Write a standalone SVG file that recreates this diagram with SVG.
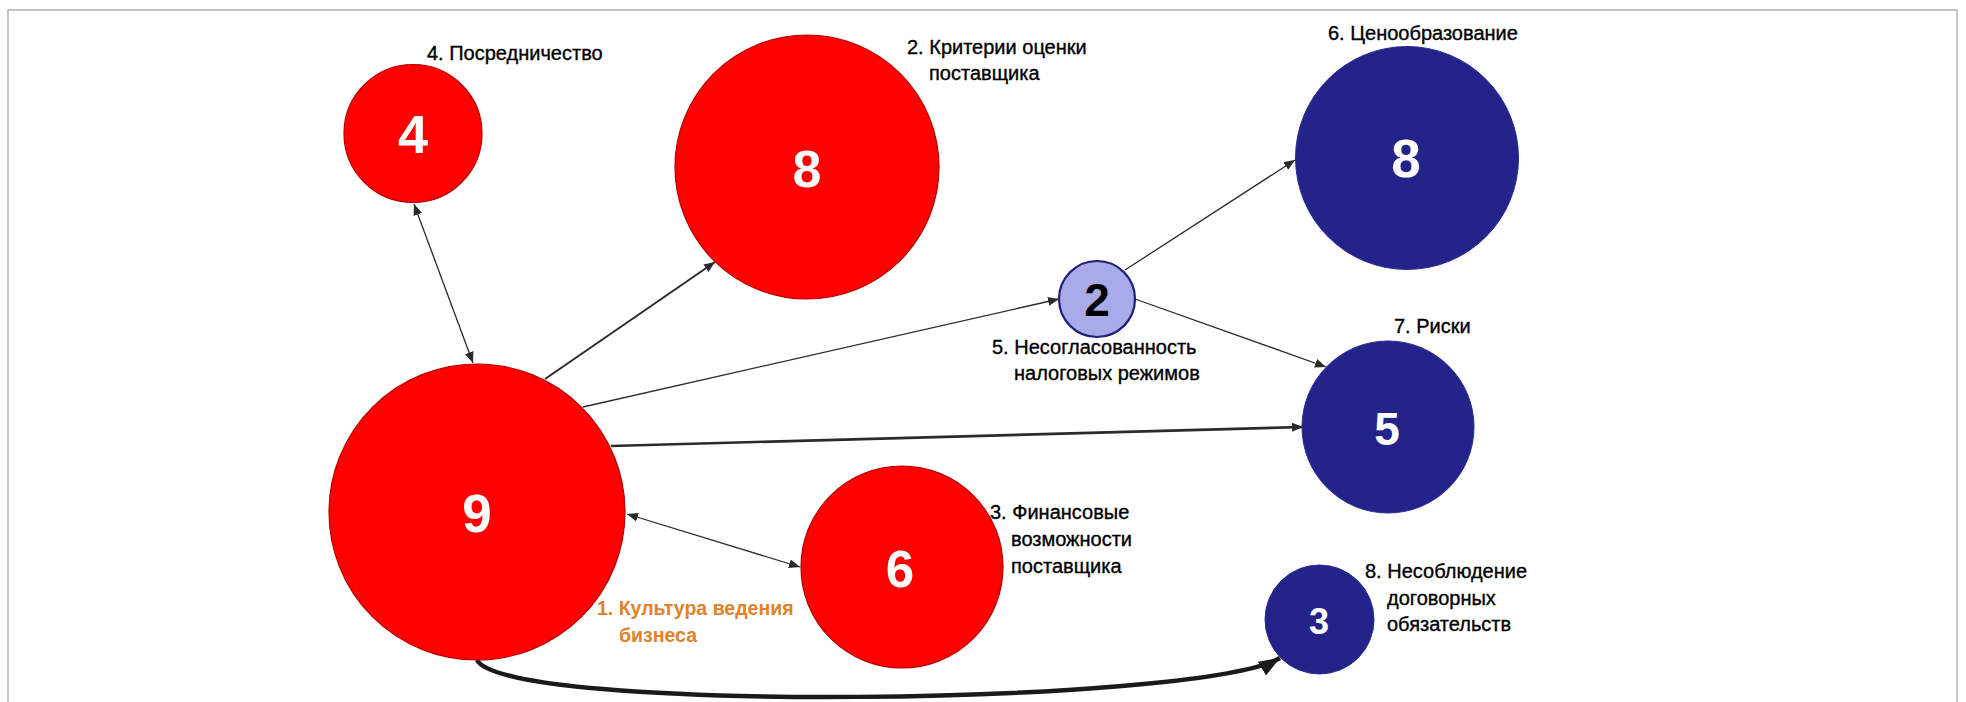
<svg xmlns="http://www.w3.org/2000/svg" width="1966" height="702" viewBox="0 0 1966 702">
  <style>
    .frame { fill: none; stroke: #b3b3b3; stroke-width: 1.5; }
    .red { fill: #ff0000; stroke: #b80000; stroke-width: 1.2; }
    .navy { fill: #232389; stroke: #2a2a95; stroke-width: 1; }
    .lilac { fill: #a9aae8; stroke: #1f1f7c; stroke-width: 2.2; }
    .num { font-family: "Liberation Sans", Arial, sans-serif; font-weight: bold; fill: #ffffff; text-anchor: middle; }
    .num.dark { fill: #000000; }
    .lbl { font-family: "Liberation Sans", Arial, sans-serif; font-size: 20px; fill: #000000; stroke: #000000; stroke-width: 0.35; }
    .lbl.accent { fill: #e0822a; stroke: none; font-weight: bold; font-size: 19.5px; }
    .edge { fill: none; stroke: #2b2b2b; stroke-width: 1.3; }
    .edge.mid { stroke-width: 2; }
    .edge.wide { stroke-width: 2.6; }
    .edge.heavy { stroke: #1a1a1a; stroke-width: 4.5; }
  </style>
  <defs>
    <marker id="tip" markerUnits="userSpaceOnUse" markerWidth="12" markerHeight="9" refX="11" refY="4.5" orient="auto-start-reverse">
      <path d="M0,0 L11,4.5 L0,9 z" fill="#2b2b2b"/>
    </marker>
    <marker id="tipBig" markerUnits="userSpaceOnUse" markerWidth="22" markerHeight="16" refX="21" refY="8" orient="auto">
      <path d="M0,0 L21,8 L0,16 z" fill="#1a1a1a"/>
    </marker>
  </defs>

  <rect class="frame" x="8" y="10" width="1949" height="700"/>

  <!-- connectors -->
  <g id="connectors">
    <line class="edge" x1="473" y1="363" x2="414" y2="204" marker-start="url(#tip)" marker-end="url(#tip)"/>
    <line class="edge mid" x1="545" y1="379" x2="715" y2="262" marker-end="url(#tip)"/>
    <line class="edge" x1="583" y1="407" x2="1059" y2="299" marker-end="url(#tip)"/>
    <line class="edge wide" x1="611" y1="446" x2="1303" y2="427" marker-end="url(#tip)"/>
    <line class="edge" x1="627" y1="514" x2="800" y2="567" marker-start="url(#tip)" marker-end="url(#tip)"/>
    <line class="edge" x1="1125" y1="270" x2="1295" y2="160" marker-end="url(#tip)"/>
    <line class="edge" x1="1135" y1="299" x2="1326" y2="367" marker-end="url(#tip)"/>
    <path class="edge heavy" d="M477,660 C505,714 1200,705 1280,658" marker-end="url(#tipBig)"/>
  </g>

  <!-- 1. Культура ведения бизнеса -->
  <g id="node-1">
    <circle class="red" cx="477" cy="512" r="148"/>
    <text class="num" x="477" y="532" font-size="53">9</text>
    <text class="lbl accent" x="597" y="615">1. Культура ведения<tspan x="619" dy="27">бизнеса</tspan></text>
  </g>

  <!-- 2. Критерии оценки поставщика -->
  <g id="node-2">
    <circle class="red" cx="807" cy="167" r="132"/>
    <text class="num" x="807" y="187" font-size="52">8</text>
    <text class="lbl" x="907" y="54">2. Критерии оценки<tspan x="929" dy="26">поставщика</tspan></text>
  </g>

  <!-- 3. Финансовые возможности поставщика -->
  <g id="node-3">
    <circle class="red" cx="902" cy="567" r="101"/>
    <text class="num" x="900" y="587" font-size="51">6</text>
    <text class="lbl" x="990" y="519">3. Финансовые<tspan x="1011" dy="27">возможности</tspan><tspan x="1011" dy="27">поставщика</tspan></text>
  </g>

  <!-- 4. Посредничество -->
  <g id="node-4">
    <circle class="red" cx="413" cy="133.5" r="69"/>
    <text class="num" x="413" y="153" font-size="54">4</text>
    <text class="lbl" x="427" y="60">4. Посредничество</text>
  </g>

  <!-- 5. Несогласованность налоговых режимов -->
  <g id="node-5">
    <circle class="lilac" cx="1097" cy="299" r="38"/>
    <text class="num dark" x="1097" y="316" font-size="46">2</text>
    <text class="lbl" x="992" y="354">5. Несогласованность<tspan x="1014" dy="26">налоговых режимов</tspan></text>
  </g>

  <!-- 6. Ценообразование -->
  <g id="node-6">
    <circle class="navy" cx="1407" cy="158" r="111.5"/>
    <text class="num" x="1406" y="177" font-size="53">8</text>
    <text class="lbl" x="1328" y="40">6. Ценообразование</text>
  </g>

  <!-- 7. Риски -->
  <g id="node-7">
    <circle class="navy" cx="1388" cy="427" r="86"/>
    <text class="num" x="1387" y="445" font-size="46">5</text>
    <text class="lbl" x="1394" y="333">7. Риски</text>
  </g>

  <!-- 8. Несоблюдение договорных обязательств -->
  <g id="node-8">
    <circle class="navy" cx="1319.5" cy="619.5" r="54.5"/>
    <text class="num" x="1319" y="634" font-size="36">3</text>
    <text class="lbl" x="1365" y="578">8. Несоблюдение<tspan x="1387" dy="27">договорных</tspan><tspan x="1387" dy="26">обязательств</tspan></text>
  </g>
</svg>
